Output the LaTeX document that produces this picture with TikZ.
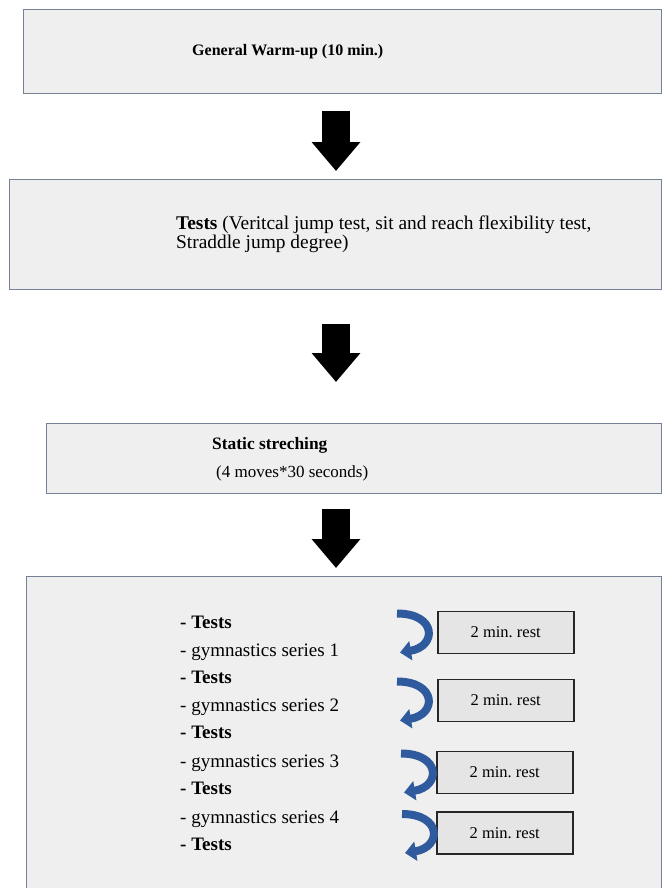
\documentclass[tikz,border=0pt]{standalone}
\usepackage{fontspec}
\setmainfont{Liberation Serif}
\usetikzlibrary{arrows.meta}
\definecolor{boxfill}{HTML}{EFEFEF}
\definecolor{boxline}{HTML}{758295}
\definecolor{restfill}{HTML}{E5E5E5}
\definecolor{loopblue}{HTML}{2F5A9E}
\tikzset{
  stagebox/.style={draw=boxline, fill=boxfill, line width=1.4pt, anchor=north west, inner sep=0pt},
  restbox/.style={draw=black!85, fill=restfill, line width=1.5pt, minimum width=136pt, minimum height=42pt,
    inner sep=0pt, anchor=west, font=\fontsize{16.5}{18}\selectfont},
  txt/.style={anchor=mid west, inner sep=0pt, font=\fontsize{19}{22}\selectfont},
  bigflow/.style={line width=28pt, -{Triangle[width=47pt,length=29pt]}},
  restloop/.style={loopblue, line width=8pt, -{Triangle[width=19pt,length=11pt]}}
}

\begin{document}
\begin{tikzpicture}[x=1pt, y=-1pt]
  \useasboundingbox (0,0) rectangle (664,888);

  % stage boxes
  \node[stagebox, minimum width=638pt, minimum height=84pt] (warmup) at (23,9) {};
  \node[stagebox, minimum width=652pt, minimum height=110pt] (tests) at (9,179) {};
  \node[stagebox, minimum width=615pt, minimum height=70pt] (stretch) at (46,423) {};
  \node[stagebox, minimum width=635pt, minimum height=330pt] (series) at (26,576) {};

  % texts of the stages
  \node[txt, font=\fontsize{16}{19}\selectfont] (warmuptxt) at (192,53) {\textbf{General Warm-up (10 min.)}};
  \node[txt, font=\fontsize{19.4}{22}\selectfont] (teststxt) at (176,227) {\textbf{Tests} (Veritcal jump test, sit and reach flexibility test,};
  \node[txt, font=\fontsize{19.4}{22}\selectfont] (teststxtb) at (176,246) {Straddle jump degree)};
  \node[txt, font=\fontsize{17.4}{20}\selectfont] (stretchtxt) at (212,447) {\textbf{Static streching}};
  \node[txt, font=\fontsize{17}{20}\selectfont] (stretchtxtb) at (216,475) {(4 moves*30 seconds)};

  \foreach \y/\entry [count=\i] in {626/\textbf{- Tests}, 654/{- gymnastics series 1},
      681/\textbf{- Tests}, 709/{- gymnastics series 2}, 736/\textbf{- Tests},
      765/{- gymnastics series 3}, 792/\textbf{- Tests}, 821/{- gymnastics series 4},
      848/\textbf{- Tests}}
    \node[txt] (item\i) at (180,\y) {\entry};

  % rest boxes and their loops
  \foreach \y/\x [count=\i] in {632.5/437, 700.5/437, 772.5/436, 833/436}
    \node[restbox] (rest\i) at (\x,\y) {2 min.\ rest};

  \foreach \i/\dx in {1/0, 2/0, 3/5, 4/6}
    \draw[restloop] ([shift={(-40+\dx,-19)}]rest\i.west)
      .. controls ([shift={(0+\dx,-19)}]rest\i.west) and ([shift={(0+\dx,14)}]rest\i.west)
      .. ([shift={(-37+\dx,20)}]rest\i.west);

  % flow arrows
  \coordinate (axis) at (336,0);
  \draw[bigflow, shorten <=17pt, shorten >=8pt] (warmup.south -| axis) -- (tests.north -| axis);
  \draw[bigflow, shorten <=34pt, shorten >=41pt] (tests.south -| axis) -- (stretch.north -| axis);
  \draw[bigflow, shorten <=15pt, shorten >=8pt] (stretch.south -| axis) -- (series.north -| axis);
\end{tikzpicture}
\end{document}
